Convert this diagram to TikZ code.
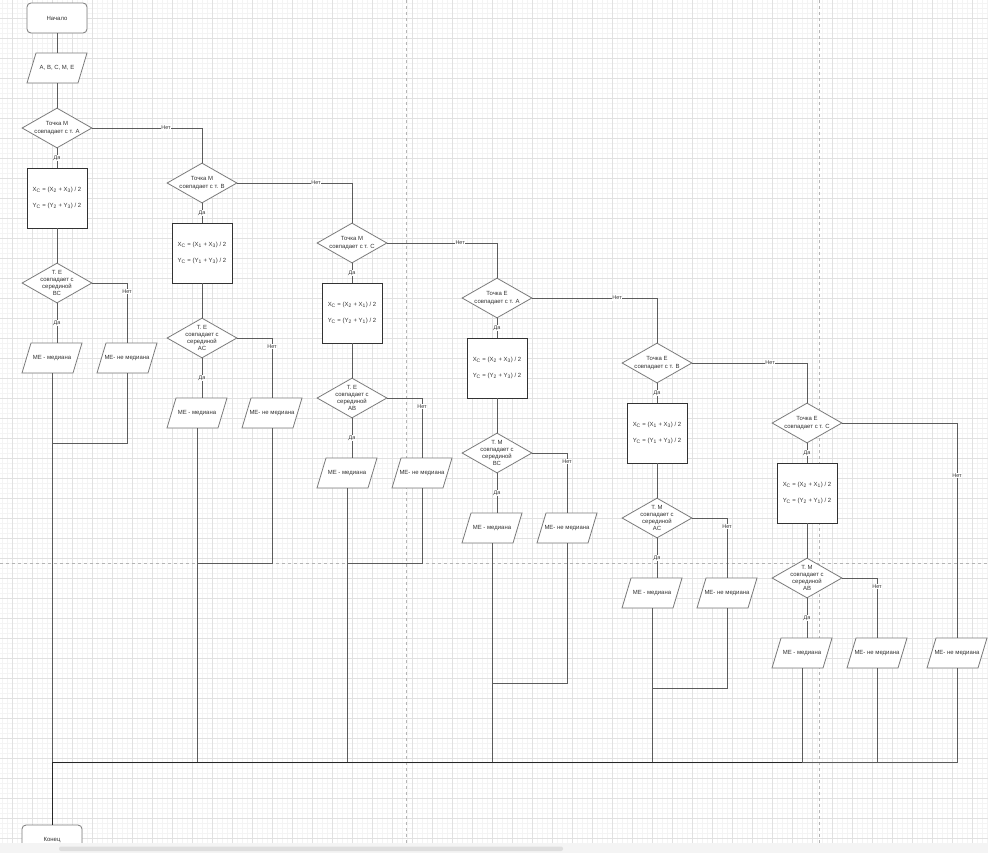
\documentclass[tikz,border=0pt]{standalone}
\usepackage{fontspec}
\setmainfont{Liberation Sans}
\usetikzlibrary{shapes.geometric}
\definecolor{gridmajor}{HTML}{E1E1E1}
\definecolor{gridminor}{HTML}{F4F4F4}
\definecolor{linec}{HTML}{5C5C5C}
\definecolor{shapec}{HTML}{7A7A7A}
\definecolor{textc}{HTML}{333333}
\definecolor{pagebrk}{HTML}{B5B5B5}
\newcommand\iobox[3]{%
  \path[draw=shapec, fill=white, line width=0.8bp, shift={(#2)}]
    (-30,15) -- (21,15) -- (30,-15) -- (-21,-15) -- cycle;
  \node[iotext] (#1) at (#2) {#3};}
\newcommand\fxy[2]{X\textsubscript{C} = (X\textsubscript{#1} + X\textsubscript{#2}) / 2\\[8.5bp]Y\textsubscript{C} = (Y\textsubscript{#1} + Y\textsubscript{#2}) / 2}
\begin{document}
\begin{tikzpicture}[x=1bp,y=-1bp,
  font=\fontsize{6}{7.3}\selectfont, text=textc,
  conn/.style={draw=linec, line width=0.7bp},
  mainline/.style={draw=black!85, line width=0.9bp},
  startend/.style={rectangle, draw=shapec, fill=white, rounded corners=4bp, minimum width=60bp, minimum height=30bp, inner sep=0pt, line width=0.8bp},
  iotext/.style={rectangle, minimum width=60bp, minimum height=30bp, inner sep=0pt},
  calc/.style={rectangle, draw=black!80, fill=white, minimum width=60bp, minimum height=60bp, inner sep=0pt, line width=0.8bp, align=center},
  dec/.style={diamond, draw=shapec, fill=white, minimum width=70bp, minimum height=40bp, inner sep=0pt, line width=0.8bp, label={[align=center,inner sep=0pt,text=textc]center:{#1}}},
  lab/.style={fill=white, inner sep=0.6bp, font=\fontsize{5.5}{6}\selectfont},
]
\useasboundingbox (0,0) rectangle (988,853);
\fill[white] (0,0) rectangle (988,853);
% grid
\foreach \x in {2,7,...,987} \draw[gridminor, line width=0.5bp] (\x,0) -- (\x,843);
\foreach \y in {3,8,...,843} \draw[gridminor, line width=0.5bp] (0,\y) -- (988,\y);
\foreach \x in {12,32,...,972} \draw[gridmajor, line width=0.7bp] (\x,0) -- (\x,843);
\foreach \y in {18,38,...,838} \draw[gridmajor, line width=0.7bp] (0,\y) -- (988,\y);
% page breaks
\draw[pagebrk, line width=0.6bp, dash pattern=on 3bp off 3bp] (406.5,0) -- (406.5,843);
\draw[pagebrk, line width=0.6bp, dash pattern=on 3bp off 3bp] (819.5,0) -- (819.5,843);
\draw[pagebrk, line width=0.6bp, dash pattern=on 3bp off 3bp] (0,563) -- (988,563);

% ---------- nodes ----------
\node[startend] (start) at (57,18) {Начало};
\iobox{inp}{57,68}{A, B, C, M, E}
% column 1
\node[dec={Точка М\\совпадает с т. А}] (dM1) at (57,128) {};
\node[calc] (r1) at (57,198) {\fxy{2}{3}};
\node[dec={Т. Е\\совпадает с\\серединой\\ВС}] (dE1) at (57,283) {};
\iobox{p1a}{52,358}{МЕ - медиана}
\iobox{p1b}{127,358}{МЕ- не медиана}
% column 2
\node[dec={Точка М\\совпадает с т. В}] (dM2) at (202,183) {};
\node[calc] (r2) at (202,253) {\fxy{1}{3}};
\node[dec={Т. Е\\совпадает с\\серединой\\АС}] (dE2) at (202,338) {};
\iobox{p2a}{197,413}{МЕ - медиана}
\iobox{p2b}{272,413}{МЕ- не медиана}
% column 3
\node[dec={Точка М\\совпадает с т. С}] (dM3) at (352,243) {};
\node[calc] (r3) at (352,313) {\fxy{2}{1}};
\node[dec={Т. Е\\совпадает с\\серединой\\АВ}] (dE3) at (352,398) {};
\iobox{p3a}{347,473}{МЕ - медиана}
\iobox{p3b}{422,473}{МЕ- не медиана}
% column 4
\node[dec={Точка Е\\совпадает с т. А}] (dM4) at (497,298) {};
\node[calc] (r4) at (497,368) {\fxy{2}{3}};
\node[dec={Т. М\\совпадает с\\серединой\\ВС}] (dE4) at (497,453) {};
\iobox{p4a}{492,528}{МЕ - медиана}
\iobox{p4b}{567,528}{МЕ- не медиана}
% column 5
\node[dec={Точка Е\\совпадает с т. В}] (dM5) at (657,363) {};
\node[calc] (r5) at (657,433) {\fxy{1}{3}};
\node[dec={Т. М\\совпадает с\\серединой\\АС}] (dE5) at (657,518) {};
\iobox{p5a}{652,593}{МЕ - медиана}
\iobox{p5b}{727,593}{МЕ- не медиана}
% column 6
\node[dec={Точка Е\\совпадает с т. С}] (dM6) at (807,423) {};
\node[calc] (r6) at (807,493) {\fxy{2}{1}};
\node[dec={Т. М\\совпадает с\\серединой\\АВ}] (dE6) at (807,578) {};
\iobox{p6a}{802,653}{МЕ - медиана}
\iobox{p6b}{877,653}{МЕ- не медиана}
\iobox{p6c}{957,653}{МЕ- не медиана}
% end
\node[startend] (end) at (52,840) {Конец};

\coordinate (j) at (52,762);
\coordinate (m1) at (52,443);
\coordinate (m2) at (197,563);
\coordinate (m3) at (347,563);
\coordinate (m4) at (492,683);
\coordinate (m5) at (652,688);

% ---------- connectors ----------
\draw[conn] (start.south) -- (inp.north);
\draw[conn] (inp.south) -- (dM1.north);
\foreach \i in {1,...,6}{
  \draw[conn] (dM\i.south) -- node[lab]{Да} (r\i.north);
  \draw[conn] (r\i.south) -- (dE\i.north);
  \draw[conn] (dE\i.south) -- node[lab]{Да} (dE\i.south |- p\i a.north);
  \draw[conn] (dE\i.east) -| node[lab,pos=0.575]{Нет} (p\i b.north);
}
\draw[conn] (dM1.east) -| node[lab,pos=0.336]{Нет} (dM2.north);
\draw[conn] (dM2.east) -| node[lab,pos=0.343]{Нет} (dM3.north);
\draw[conn] (dM3.east) -| node[lab,pos=0.332]{Нет} (dM4.north);
\draw[conn] (dM4.east) -| node[lab,pos=0.34]{Нет} (dM5.north);
\draw[conn] (dM5.east) -| node[lab,pos=0.339]{Нет} (dM6.north);
\draw[conn] (dM6.east) -| node[lab,pos=0.623]{Нет} (p6c.north);

% merging lines
\draw[conn] (p1b.south) |- (m1);
\draw[conn] (p2b.south) |- (m2);
\draw[conn] (p3b.south) |- (m3);
\draw[conn] (p4b.south) |- (m4);
\draw[conn] (p5b.south) |- (m5);
\draw[conn] (p2a.south) -- (p2a.south |- j);
\draw[conn] (p3a.south) -- (p3a.south |- j);
\draw[conn] (p4a.south) -- (p4a.south |- j);
\draw[conn] (p5a.south) -- (p5a.south |- j);
\draw[conn] (p6a.south) -- (p6a.south |- j);
\draw[conn] (p6b.south) -- (p6b.south |- j);
\draw[conn] (p6c.south) |- (p6a.south |- j);
\draw[conn] (p1a.south) -- (j);
\draw[mainline] (p6a.south |- j) -- (j) -- (end.north);

% bottom bar of the window
\fill[gridminor] (0,843) rectangle (988,853);
\fill[black!13, rounded corners=2bp] (59,846.5) rectangle (563,851);
\end{tikzpicture}
\end{document}
